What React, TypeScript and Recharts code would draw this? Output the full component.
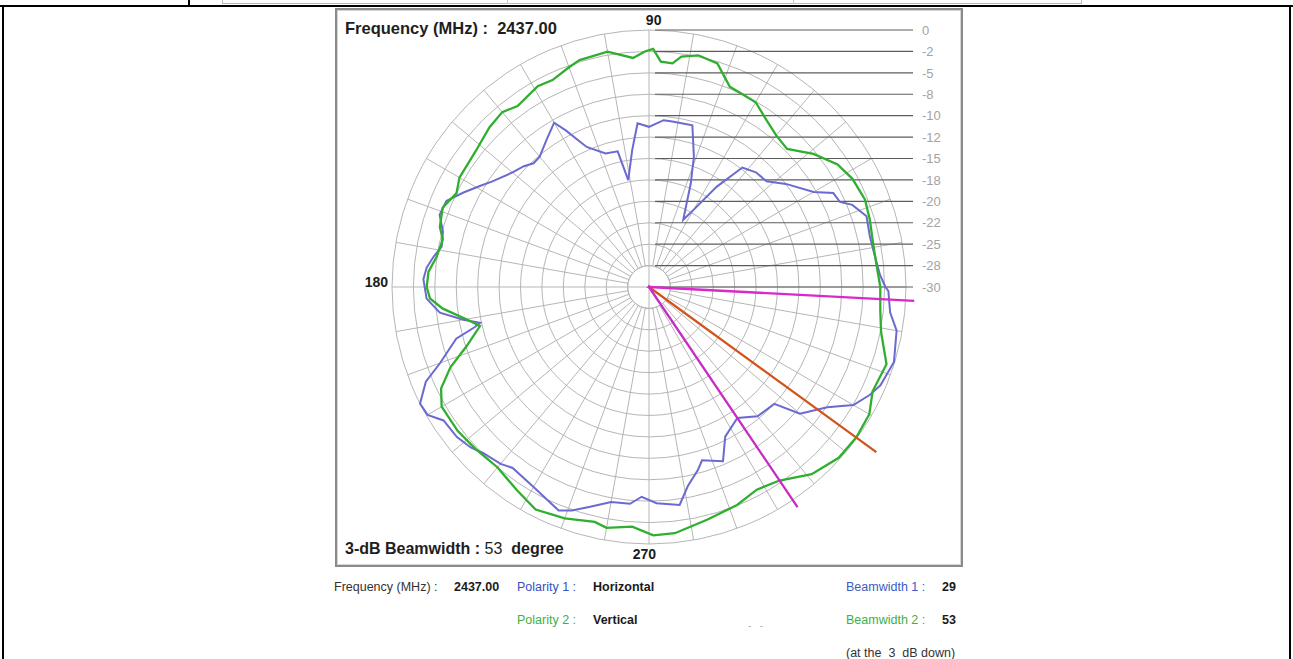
import React from "react";
import {
  RadarChart,
  PolarGrid,
  PolarAngleAxis,
  PolarRadiusAxis,
  Radar,
} from "recharts";

// one category per degree for the grid / angle labels
const DEGREES = Array.from({ length: 360 }, (_, i) => i);

// Polarity 2 (Vertical), dB
const V_ANGLE = [
  0, 5, 11, 17, 22, 28, 33, 39, 45, 50, 55, 60, 64, 68, 73, 78, 82, 84, 87, 89,
  91, 94, 100, 107, 110, 115, 119, 126, 130, 135, 142, 150, 154, 159, 164, 167,
  172, 176, 180, 183, 186, 190, 193, 198, 202, 206, 210, 217, 223, 230, 237,
  243, 250, 257, 260, 266, 271, 276, 284, 292, 298, 304, 311, 318, 324, 330,
  335, 342, 349, 354,
];
const V_GAIN = [
  -3.0, -3.3, -3.35, -3.05, -2.8, -3.1, -3.75, -5.3, -7.2, -6.9, -6.15, -5.1,
  -5.0, -4.8, -2.7, -2.35, -2.85, -3.75, -3.65, -2.2, -2.5, -3.2, -2.1, -2.3,
  -2.7, -3.35, -3.2, -3.9, -3.35, -3.65, -4.3, -4.45, -5.0, -4.2, -4.6, -5.3,
  -4.95, -4.2, -4.05, -4.4, -5.8, -8.35, -9.75, -7.6, -5.0, -3.0, -2.05, -2.05,
  -2.3, -2.5, -1.7, -0.85, -1.25, -1.85, -1.45, -1.95, -1.0, -1.1, -2.0, -2.55,
  -3.2, -2.75, -1.05, -0.2, -0.1, -0.3, -1.2, -0.85, -2.4, -2.85,
];

// Polarity 1 (Horizontal)
const H_ANGLE = [
  0, 3, 9, 13, 18, 22, 24, 27, 30, 37, 42, 47, 52, 56, 60, 63, 68, 71, 75, 82,
  85, 90, 94, 97, 101, 103, 108, 114, 118, 120, 125, 130, 133, 136, 140, 146,
  149, 153, 157, 161, 165, 169, 172, 175, 178, 183, 187, 190, 192, 193, 195,
  200, 203, 207, 210, 213, 218, 222, 225, 230, 233, 240, 248, 251, 255, 260,
  265, 268, 272, 278, 281, 285, 287, 293, 297, 304, 310, 317, 320, 326, 330,
  334, 337, 343, 350, 354, 359,
];
const H_GAIN = [
  -2.4, -3.0, -3.45, -3.55, -3.3, -4.4, -5.6, -5.85, -7.8, -10.0, -11.55,
  -11.7, -12.3, -15.9, -19.6, -21.2, -17.0, -13.9, -10.45, -10.5, -10.45,
  -11.3, -10.85, -13.9, -17.3, -13.75, -13.6, -12.1, -9.3, -7.85, -9.1, -10.15,
  -10.25, -9.7, -9.2, -7.95, -7.05, -5.7, -4.3, -4.15, -5.1, -5.35, -4.6,
  -3.95, -3.65, -4.0, -5.4, -8.0, -9.85, -9.1, -6.7, -4.05, -1.7, 0.0, -0.15,
  -1.4, -1.55, -2.0, -2.6, -3.05, -3.55, -3.05, -1.85, -2.4, -3.45, -4.5, -4.6,
  -5.5, -4.75, -4.3, -6.3, -7.9, -8.85, -7.9, -10.4, -11.55, -10.3, -10.0,
  -7.0, -4.9, -2.45, -1.3, -0.65, -0.1, -0.65, -1.7, -2.05,
];

// 3 dB edges (magenta) and peak direction (orange)
const EDGE_ANGLE = [357, 304];
const EDGE_GAIN = [1.0, 1.0];
const PEAK_ANGLE = 324;
const PEAK_GAIN = 2.8;
const ORIGIN = -30;

const RING_VALUES = [0, -2.5, -5, -7.5, -10, -12.5, -15, -17.5, -20, -22.5, -25, -27.5, -30];
const RING_LABELS = ["0", "-2", "-5", "-8", "-10", "-12", "-15", "-18", "-20", "-22", "-25", "-28", "-30"];
const SPOKES = Array.from({ length: 36 }, (_, i) => i * 10);
const MAIN_AXES = [0, 90, 180, 270];
const ANGLE_LABELS: Record<number, string> = { 90: "90", 180: "180", 270: "270" };

const gridRows = DEGREES.map((deg) => ({ deg }));
const vRows = V_ANGLE.map((deg, i) => ({ deg, gain: V_GAIN[i] }));
const hRows = H_ANGLE.map((deg, i) => ({ deg, gain: H_GAIN[i] }));
const markerRows = [
  { deg: EDGE_ANGLE[0], e1: EDGE_GAIN[0], e2: ORIGIN, pk: ORIGIN },
  { deg: EDGE_ANGLE[1], e1: ORIGIN, e2: EDGE_GAIN[1], pk: ORIGIN },
  { deg: PEAK_ANGLE, e1: ORIGIN, e2: ORIGIN, pk: PEAK_GAIN },
];

const FONT = '"Liberation Sans", Arial, sans-serif';
const CX = 649;
const CY = 287;
const R_IN = 21.4;
const R_OUT = 257;
const GAIN_DOMAIN: [number, number] = [-27.5, 0];

function RingTick(props: any) {
  const { x, y, payload } = props;
  const idx = RING_VALUES.indexOf(payload.value);
  return (
    <g>
      <line x1={x + 6} x2={x + 264} y1={y} y2={y} stroke="#5c5c5c" strokeWidth={1.2} />
      <text x={x + 273} y={y} dy="0.36em" textAnchor="start" fill="#a3a3a3" fontSize={13} fontFamily={FONT}>
        {RING_LABELS[idx]}
      </text>
    </g>
  );
}

function AngleTick(props: any) {
  const { x, y, payload } = props;
  const label = ANGLE_LABELS[payload.value];
  if (!label) return <g />;
  return (
    <text
      x={x + (payload.value === 180 ? 6 : 0)}
      y={y}
      dy="0.36em"
      textAnchor={payload.value === 180 ? "end" : "middle"}
      fill="#1b1b1b"
      fontSize={14}
      fontWeight="bold"
      fontFamily={FONT}
    >
      {label}
    </text>
  );
}

// one polar layer sharing the same centre / scales; curves sit on separate
// layers because each series was sampled at its own angles
function Layer({ data, children }: any) {
  return (
    <div style={{ position: "absolute", left: 0, top: 0 }}>
      <RadarChart
        width={1293}
        height={659}
        data={data}
        cx={CX}
        cy={CY}
        innerRadius={R_IN}
        outerRadius={R_OUT}
        startAngle={0}
        endAngle={360}
        margin={{ top: 0, right: 0, bottom: 0, left: 0 }}
      >
        <PolarAngleAxis dataKey="deg" type="number" domain={[0, 360]} tick={false} axisLine={false} tickLine={false} />
        <PolarRadiusAxis type="number" domain={GAIN_DOMAIN} allowDataOverflow tick={false} axisLine={false} tickLine={false} />
        {children}
      </RadarChart>
    </div>
  );
}

function T({ x, y, size = 12.5, color = "#222", bold = false, children }: any) {
  return (
    <div
      style={{
        position: "absolute",
        left: x,
        top: y - size / 2,
        fontSize: size,
        lineHeight: 1,
        color,
        fontWeight: bold ? "bold" : "normal",
        whiteSpace: "pre",
      }}
    >
      {children}
    </div>
  );
}

const line = { fill: "none", fillOpacity: 0, dot: false, isAnimationActive: false } as const;

export default function App() {
  return (
    <div
      style={{
        position: "absolute",
        left: 0,
        top: 0,
        width: 1293,
        height: 659,
        background: "#fff",
        overflow: "hidden",
        fontFamily: FONT,
      }}
    >
      {/* page table rules */}
      <div style={{ position: "absolute", left: 0, top: 5, width: 1293, height: 2, background: "#000" }} />
      <div style={{ position: "absolute", left: 2, top: 5, width: 2, height: 654, background: "#000" }} />
      <div style={{ position: "absolute", left: 1289, top: 5, width: 2, height: 654, background: "#000" }} />
      <div style={{ position: "absolute", left: 188, top: 0, width: 2, height: 6, background: "#000" }} />
      <div
        style={{
          position: "absolute",
          left: 222,
          top: -2,
          width: 858,
          height: 5,
          border: "1px solid #b8b8b8",
          borderTop: "none",
        }}
      />
      <div style={{ position: "absolute", left: 507, top: 0, width: 1, height: 4, background: "#c8c8c8" }} />
      <div style={{ position: "absolute", left: 793, top: 0, width: 1, height: 4, background: "#c8c8c8" }} />

      {/* chart frame */}
      <div
        style={{
          position: "absolute",
          left: 335,
          top: 8,
          width: 628,
          height: 559,
          boxSizing: "border-box",
          border: "2px solid #8a8a8a",
          boxShadow: "inset 0 0 0 1px #d6d6d6",
          background: "#fff",
        }}
      />

      {/* main axes running through the centre disc */}
      <div style={{ position: "absolute", left: 0, top: 0 }}>
        <RadarChart
          width={1293}
          height={659}
          data={gridRows}
          cx={CX}
          cy={CY}
          innerRadius={0}
          outerRadius={R_IN}
          startAngle={0}
          endAngle={360}
          margin={{ top: 0, right: 0, bottom: 0, left: 0 }}
        >
          <PolarGrid gridType="circle" polarAngles={MAIN_AXES} polarRadius={[R_IN]} stroke="#b6b6b6" strokeWidth={1} />
          <PolarAngleAxis dataKey="deg" tick={false} axisLine={false} tickLine={false} />
          <PolarRadiusAxis tick={false} axisLine={false} tickLine={false} />
        </RadarChart>
      </div>

      {/* grid, ring scale and angle labels */}
      <div style={{ position: "absolute", left: 0, top: 0 }}>
        <RadarChart
          width={1293}
          height={659}
          data={gridRows}
          cx={CX}
          cy={CY}
          innerRadius={R_IN}
          outerRadius={R_OUT}
          startAngle={0}
          endAngle={360}
          margin={{ top: 0, right: 0, bottom: 0, left: 0 }}
        >
          <PolarGrid gridType="circle" polarAngles={SPOKES} stroke="#b6b6b6" strokeWidth={1} />
          <PolarAngleAxis dataKey="deg" axisLine={false} tickLine={false} tickSize={10} tick={AngleTick} />
          <PolarRadiusAxis
            angle={90}
            type="number"
            domain={GAIN_DOMAIN}
            allowDataOverflow
            ticks={RING_VALUES}
            axisLine={false}
            tickLine={false}
            tick={RingTick}
          />
        </RadarChart>
      </div>

      <Layer data={hRows}>
        <Radar dataKey="gain" stroke="#6a6ad0" strokeWidth={2} {...line} />
      </Layer>
      <Layer data={vRows}>
        <Radar dataKey="gain" stroke="#2fae2f" strokeWidth={2.3} {...line} />
      </Layer>
      <Layer data={markerRows}>
        <Radar dataKey="pk" stroke="#d2541c" strokeWidth={2.3} {...line} />
        <Radar dataKey="e1" stroke="#d928cc" strokeWidth={2.3} {...line} />
        <Radar dataKey="e2" stroke="#c72bc4" strokeWidth={2.3} {...line} />
      </Layer>

      {/* frame captions */}
      <T x={345} y={28} size={16.5} bold color="#1e1e1e">
        {"Frequency (MHz) :  2437.00"}
      </T>
      <div
        style={{
          position: "absolute",
          left: 345,
          top: 541,
          fontSize: 16,
          lineHeight: 1,
          color: "#1e1e1e",
          whiteSpace: "pre",
        }}
      >
        <b>{"3-dB Beamwidth : "}</b>
        <span>{"53  "}</span>
        <b>degree</b>
      </div>

      {/* summary below the frame */}
      <T x={334} y={587} color="#333">{"Frequency (MHz) :"}</T>
      <T x={454} y={587} bold color="#1a1a1a">2437.00</T>
      <T x={517} y={587} color="#3651c4">{"Polarity 1 :"}</T>
      <T x={593} y={587} bold color="#1a1a1a">Horizontal</T>
      <T x={846} y={587} color="#3a5cc6">{"Beamwidth 1 :"}</T>
      <T x={942} y={587} bold color="#1a1a1a">29</T>

      <T x={517} y={620} color="#3fb045">{"Polarity 2 :"}</T>
      <T x={593} y={620} bold color="#1a1a1a">Vertical</T>
      <T x={748} y={626} size={10} color="#b0b0b0">{"-   -"}</T>
      <T x={846} y={620} color="#3fb045">{"Beamwidth 2 :"}</T>
      <T x={942} y={620} bold color="#1a1a1a">53</T>

      <T x={846} y={653} color="#333">{"(at the  3  dB down)"}</T>
    </div>
  );
}
